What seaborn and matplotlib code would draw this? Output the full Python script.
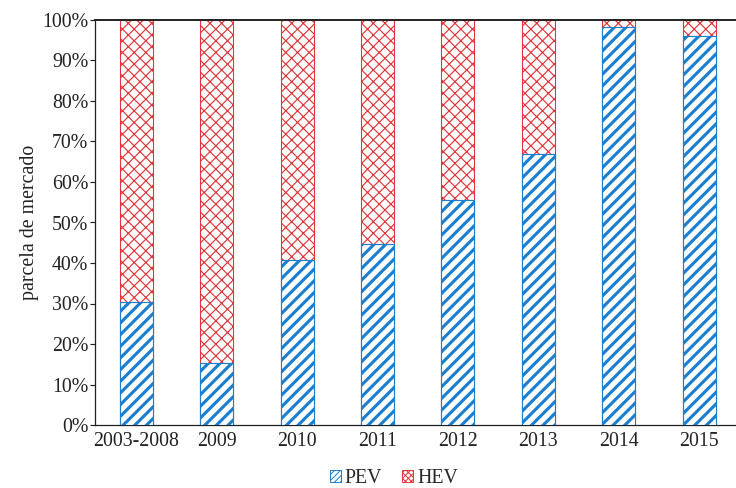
import matplotlib
matplotlib.use("Agg")
import matplotlib.pyplot as plt
from matplotlib.patches import Patch
from matplotlib.ticker import PercentFormatter
import seaborn as sns
import pandas as pd

categories = ["2003-2008", "2009", "2010", "2011", "2012", "2013", "2014", "2015"]
pev_share = [30.3, 15.3, 40.8, 44.6, 55.6, 66.9, 98.3, 96.1]
hev_share = [100 - v for v in pev_share]

blue = "#1a7fd0"
red = "#e0353a"
ink = "#222222"
FS = 20.5

sns.set_theme(style="white")
plt.rcParams["font.family"] = ["Liberation Serif", "DejaVu Serif"]

DPI = 70
fig = plt.figure(figsize=(736 / DPI, 488 / DPI), dpi=DPI)
ax = fig.add_axes([95 / 736, 63 / 488, 641 / 736, 405 / 488])

df = pd.DataFrame({"ano": categories, "PEV": pev_share, "HEV": hev_share})
df["total"] = df["PEV"] + df["HEV"]

# HEV segment: full-height bar, later covered from below by the PEV segment
sns.barplot(data=df, x="ano", y="total", ax=ax, color="white", width=0.41,
            edgecolor=red, hatch="xx", linewidth=1.1, zorder=2)
n_hev = len(ax.patches)
sns.barplot(data=df, x="ano", y="PEV", ax=ax, color="white", width=0.41,
            edgecolor=blue, hatch="//", linewidth=1.2, zorder=3)

for i, p in enumerate(ax.patches):
    if hasattr(p, "set_hatch_linewidth"):
        p.set_hatch_linewidth(1.2 if i < n_hev else 3.2)

ax.set_xlim(-0.516, 7.46)
ax.set_ylim(0, 100)
ax.set_yticks(range(0, 101, 10))
ax.yaxis.set_major_formatter(PercentFormatter(decimals=0))
ax.set_xlabel("")
ax.set_ylabel("parcela de mercado", fontsize=FS, color=ink, labelpad=3)

ax.spines["right"].set_visible(False)
for side in ["left", "bottom", "top"]:
    ax.spines[side].set_color(ink)
    ax.spines[side].set_linewidth(1.3)
ax.spines["top"].set_linewidth(2.0)

ax.tick_params(axis="y", direction="out", length=5, width=1.2, color=ink,
               labelsize=FS, labelcolor=ink, pad=2, left=True)
ax.tick_params(axis="x", length=0, labelsize=FS, labelcolor=ink, pad=7)

handles = [
    Patch(facecolor="white", edgecolor=blue, hatch="////", label="PEV"),
    Patch(facecolor="white", edgecolor=red, hatch="xxxx", label="HEV"),
]
fig.legend(handles=handles, loc="center", bbox_to_anchor=(0.535, 0.02),
           ncol=2, frameon=False, fontsize=FS, handlelength=0.55,
           handleheight=0.55, handletextpad=0.2, columnspacing=1.0)

fig.savefig("out.png", dpi=DPI, facecolor="white")
